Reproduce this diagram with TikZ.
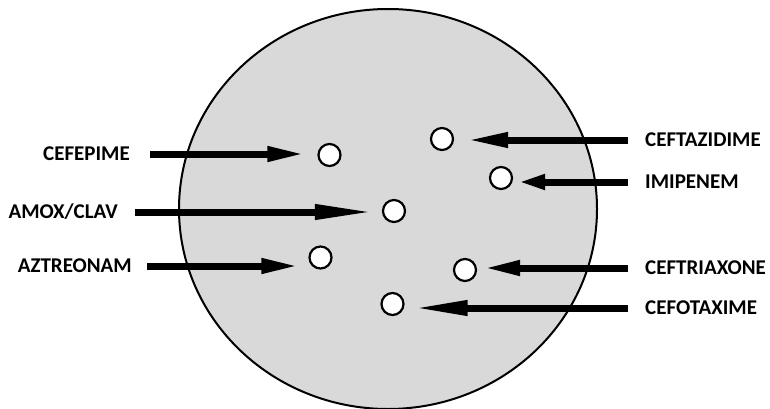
\documentclass[tikz,border=0pt]{standalone}
\usepackage{fontspec}
\setmainfont{Carlito}
\usetikzlibrary{arrows.meta,shapes.geometric}
\definecolor{agar}{HTML}{D9D9D9}
\tikzset{
    plate/.style = {draw, ellipse, line width=2pt, fill=agar, minimum width=418pt, minimum height=400pt, inner sep=0pt},
    hole/.style = {draw, circle, line width=2.2pt, fill=white, minimum size=22pt, inner sep=0pt},
    drug/.style = {inner sep=0pt, font=\fontsize{21}{24}\selectfont\bfseries},
    shaft/.style = {line width=7pt, -{Triangle[length=#1, width=14pt]}},
}

\begin{document}
\begin{tikzpicture}[x=1pt, y=-1pt]
    \useasboundingbox (0,0) rectangle (770,409);

    % Agar plate
    \node[plate] (plate) at (388,209) {};

    % Wells
    \node[hole] (hcefepime) at (329.5,155) {};
    \node[hole] (hamox) at (394,211) {};
    \node[hole] (haztreonam) at (320.5,257.5) {};
    \node[hole] (hceftazidime) at (442,139) {};
    \node[hole] (himipenem) at (501,178) {};
    \node[hole] (hceftriaxone) at (465,270) {};
    \node[hole] (hcefotaxime) at (392.5,304) {};

    % Labels on the left
    \node[drug, anchor=east] (cefepime) at (130,154) {CEFEPIME};
    \node[drug, anchor=east] (amox) at (118,212) {AMOX/CLAV};
    \node[drug, anchor=east] (aztreonam) at (132,266) {AZTREONAM};

    % Labels on the right
    \node[drug, anchor=west] (ceftazidime) at (645,140) {CEFTAZIDIME};
    \node[drug, anchor=west] (imipenem) at (645,182) {IMIPENEM};
    \node[drug, anchor=west] (ceftriaxone) at (645,268) {CEFTRIAXONE};
    \node[drug, anchor=west] (cefotaxime) at (645,308) {CEFOTAXIME};

    % Arrows
    \draw[shaft=38pt, shorten <=20pt, shorten >=12pt] (cefepime.east) -- (cefepime.east -| hcefepime.west);
    \draw[shaft=60pt, shorten <=17pt, shorten >=7pt] (amox.east) -- (amox.east -| hamox.west);
    \draw[shaft=38pt, shorten <=15pt, shorten >=9pt] (aztreonam.east) -- (aztreonam.east -| haztreonam.west);

    \draw[shaft=42pt, shorten <=17pt, shorten >=12pt] (ceftazidime.west) -- (ceftazidime.west -| hceftazidime.east);
    \draw[shaft=27pt, shorten <=17pt, shorten >=5pt] (imipenem.west) -- (imipenem.west -| himipenem.east);
    \draw[shaft=37pt, shorten <=17pt, shorten >=6pt] (ceftriaxone.west) -- (ceftriaxone.west -| hceftriaxone.east);
    \draw[shaft=55pt, shorten <=17pt, shorten >=8pt] (cefotaxime.west) -- (cefotaxime.west -| hcefotaxime.east);
\end{tikzpicture}
\end{document}
